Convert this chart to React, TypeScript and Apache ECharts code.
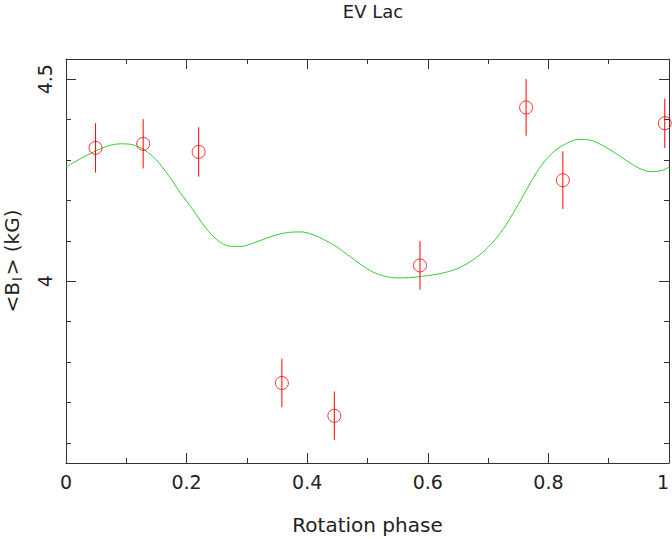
import React, { useEffect, useRef } from "react";
import * as echarts from "echarts";

// Observations: rotation phase, <B_l> (kG), error (kG)
const obsPhase = [0.049, 0.128, 0.220, 0.358, 0.445, 0.587, 0.763, 0.824, 0.993];
const obsField = [4.330, 4.340, 4.320, 3.748, 3.667, 4.039, 4.430, 4.250, 4.391];
const obsError = [0.061, 0.061, 0.061, 0.060, 0.060, 0.060, 0.070, 0.071, 0.061];

// Model curve
const modelPhase = [0.00, 0.03, 0.05, 0.07, 0.09, 0.11, 0.13, 0.15, 0.17, 0.19, 0.21, 0.23, 0.25, 0.27, 0.29, 0.31, 0.33, 0.35, 0.37, 0.39, 0.41, 0.43, 0.45, 0.47, 0.49, 0.51, 0.53, 0.55, 0.57, 0.59, 0.61, 0.63, 0.65, 0.67, 0.69, 0.71, 0.73, 0.75, 0.77, 0.79, 0.81, 0.83, 0.85, 0.87, 0.89, 0.91, 0.93, 0.95, 0.97, 0.99, 1.00];
const modelField = [4.283, 4.308, 4.323, 4.335, 4.340, 4.338, 4.325, 4.300, 4.262, 4.218, 4.178, 4.135, 4.103, 4.087, 4.086, 4.094, 4.105, 4.115, 4.121, 4.122, 4.115, 4.101, 4.084, 4.062, 4.040, 4.022, 4.012, 4.008, 4.009, 4.012, 4.016, 4.022, 4.032, 4.048, 4.070, 4.100, 4.140, 4.190, 4.243, 4.290, 4.322, 4.341, 4.351, 4.349, 4.336, 4.318, 4.298, 4.280, 4.271, 4.275, 4.283];

// Axes
const xMin = 0;
const xMax = 1;
const xStep = 0.2;
const yMin = 3.55;
const yMax = 4.55;
const yMajorTicks = [4, 4.5];
const yMinorTicks = [3.6, 3.7, 3.8, 3.9, 4.1, 4.2, 4.3, 4.4];

const FONT = "DejaVu Sans";
const TEXT = "#222";
const LINE = "#333";

export default function App() {
  const ref = useRef<HTMLDivElement>(null);
  useEffect(() => {
    if (!ref.current) return;
    const chart = echarts.init(ref.current, null, { renderer: "svg" });
    const fmtX = (v: number) => String(Math.round(v * 10) / 10);
    const baseX = {
      type: "value",
      min: xMin,
      max: xMax,
      interval: xStep,
      axisLine: { show: true, lineStyle: { color: LINE, width: 1 } },
      axisTick: { show: true, inside: true, length: 10, lineStyle: { color: LINE } },
      minorTick: { show: true, splitNumber: 2, length: 5, lineStyle: { color: LINE } },
      splitLine: { show: false },
      minorSplitLine: { show: false },
    };
    const majorY = {
      type: "value",
      min: yMin,
      max: yMax,
      axisLine: { show: true, lineStyle: { color: LINE, width: 1 } },
      axisTick: { show: true, inside: true, length: 10, customValues: yMajorTicks, lineStyle: { color: LINE } },
      splitLine: { show: false },
    };
    const minorY = {
      type: "value",
      min: yMin,
      max: yMax,
      axisLine: { show: false },
      axisTick: { show: true, inside: true, length: 5, customValues: yMinorTicks, lineStyle: { color: LINE } },
      axisLabel: { show: false },
      splitLine: { show: false },
    };
    chart.setOption({
      animation: false,
      backgroundColor: "#fff",
      title: {
        text: "EV Lac",
        left: 368,
        textAlign: "center",
        top: -3,
        textStyle: { fontFamily: FONT, fontSize: 18, fontWeight: "normal", color: TEXT },
      },
      grid: { left: 66, top: 59, width: 603, height: 404, containLabel: false, outerBoundsMode: "none" },
      xAxis: [
        {
          ...baseX,
          position: "bottom",
          axisLabel: {
            show: true,
            fontFamily: FONT,
            fontSize: 19,
            color: TEXT,
            margin: 9,
            formatter: fmtX,
            alignMaxLabel: "right",
          },
          name: "Rotation phase",
          nameLocation: "middle",
          nameGap: 52,
          nameTextStyle: { fontFamily: FONT, fontSize: 20, color: TEXT },
        },
        { ...baseX, position: "top", axisLabel: { show: false } },
      ],
      yAxis: [
        {
          ...majorY,
          position: "left",
          axisLabel: {
            show: true,
            customValues: yMajorTicks,
            rotate: 90,
            fontFamily: FONT,
            fontSize: 19,
            color: TEXT,
            margin: 12,
            formatter: (v: number) => String(v),
          },
          name: "<B{sub|l}> (kG)",
          nameLocation: "middle",
          nameRotate: 90,
          nameGap: 42,
          nameTextStyle: {
            fontFamily: FONT,
            fontSize: 20,
            color: TEXT,
            rich: {
              sub: { fontFamily: FONT, fontSize: 13, color: TEXT, verticalAlign: "bottom", padding: [12, 2, 0, 1] },
            },
          },
        },
        { ...minorY, position: "left" },
        { ...majorY, position: "right", axisLabel: { show: false } },
        { ...minorY, position: "right" },
      ],
      series: [
        {
          type: "line",
          xAxisIndex: 0,
          yAxisIndex: 0,
          data: modelPhase.map((p, i) => [p, modelField[i]]),
          smooth: 0.3,
          symbol: "none",
          lineStyle: { color: "#33cc33", width: 1 },
          z: 2,
        },
        {
          type: "custom",
          xAxisIndex: 0,
          yAxisIndex: 0,
          data: obsPhase.map((p, i) => [p, obsField[i], obsError[i]]),
          encode: { x: 0, y: 1 },
          renderItem: (params: any, api: any) => {
            const x = api.value(0);
            const y = api.value(1);
            const e = api.value(2);
            const a = api.coord([x, y - e]);
            const b = api.coord([x, y + e]);
            return {
              type: "line",
              shape: { x1: a[0], y1: a[1], x2: b[0], y2: b[1] },
              style: { stroke: "#ff0000", lineWidth: 1 },
            };
          },
          z: 3,
        },
        {
          type: "scatter",
          xAxisIndex: 0,
          yAxisIndex: 0,
          data: obsPhase.map((p, i) => [p, obsField[i]]),
          symbol: "circle",
          symbolSize: 13,
          itemStyle: { color: "rgba(255,255,255,0)", borderColor: "#ff0000", borderWidth: 1 },
          z: 4,
        },
      ],
    });
    return () => chart.dispose();
  }, []);
  return <div ref={ref} style={{ position: "fixed", left: 0, top: 0, width: 672, height: 539 }} />;
}
